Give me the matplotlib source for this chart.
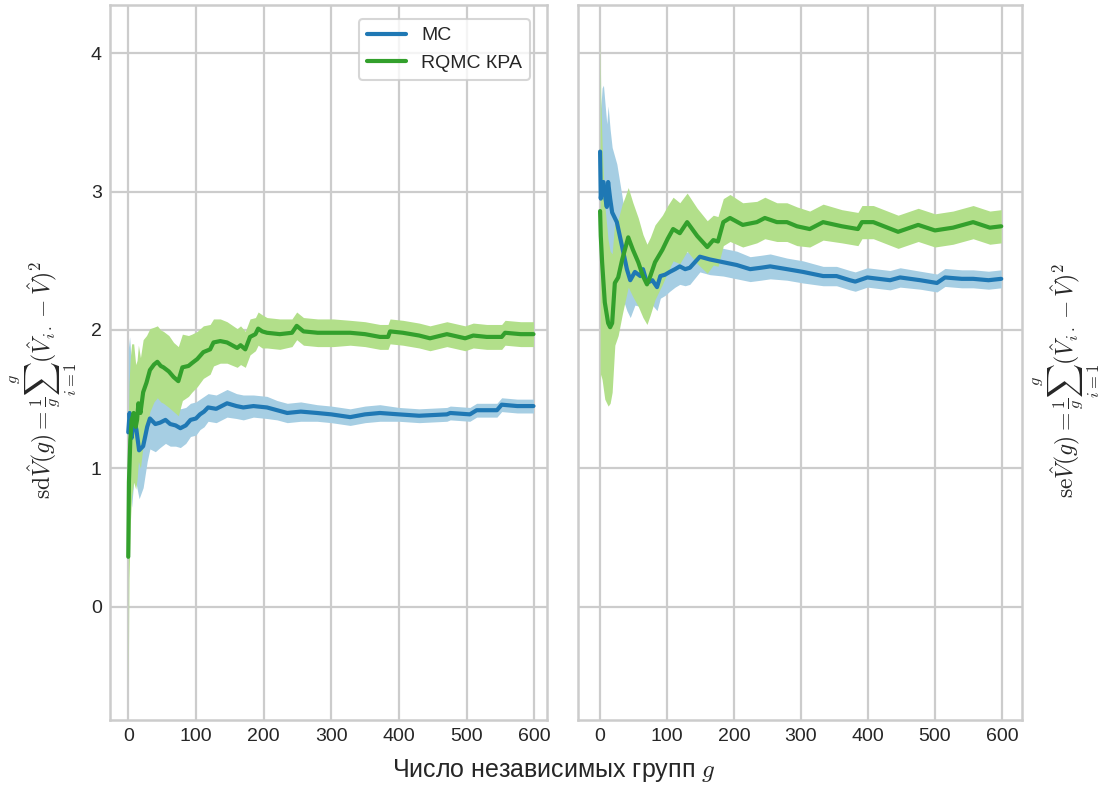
import numpy as np
import matplotlib
matplotlib.use("Agg")
import matplotlib.pyplot as plt
import seaborn as sns

sns.set_theme(style="whitegrid", context="talk")
plt.rcParams['font.family'] = ['Liberation Sans', 'DejaVu Sans']
plt.rcParams['mathtext.fontset'] = 'cm'

# left panel (sd), MC
sd_mc_g = [0, 2, 5, 8, 12, 16, 22, 28, 32, 40, 47, 55, 62, 70, 77, 85, 92, 100, 106, 112, 118,
           130, 146, 160, 170, 185, 205, 220, 235, 255, 279, 300, 328, 350, 372, 400, 430, 471,
           476, 505, 515, 545, 552, 575, 599]
sd_mc = [1.26, 1.40, 1.22, 1.35, 1.28, 1.13, 1.16, 1.30, 1.36, 1.32, 1.33, 1.35, 1.32, 1.31, 1.29,
         1.31, 1.35, 1.36, 1.39, 1.41, 1.44, 1.43, 1.47, 1.45, 1.44, 1.45, 1.44, 1.42, 1.40, 1.41,
         1.40, 1.39, 1.37, 1.39, 1.40, 1.39, 1.38, 1.39, 1.40, 1.39, 1.42, 1.42, 1.46, 1.45, 1.45]
sd_mc_hw = [.6, .55, .5, .45, .4, .35, .3, .25, .22, .2, .18, .17, .16, .15, .14, .13, .12, .12, .11,
            .11, .1, .1, .1, .09, .09, .08, .08, .07, .07, .07, .06, .06, .06, .06, .06, .05, .05,
            .05, .05, .05, .05, .05, .05, .05, .05]

# left panel (sd), RQMC
sd_rq_g = [0, 1, 3, 5, 8, 11, 13, 15, 18, 22, 27, 32, 38, 43, 48, 52, 60, 67, 74, 80, 89, 94, 102,
           111, 121, 126, 136, 146, 161, 166, 173, 180, 188, 192, 198, 205, 224, 242, 249, 259,
           280, 303, 328, 350, 372, 384, 387, 406, 430, 446, 471, 498, 510, 530, 552, 557, 580, 599]
sd_rq = [0.36, 0.9, 1.2, 1.35, 1.40, 1.3, 1.35, 1.47, 1.40, 1.55, 1.62, 1.71, 1.75, 1.77, 1.74,
         1.73, 1.70, 1.66, 1.63, 1.73, 1.74, 1.76, 1.79, 1.84, 1.86, 1.91, 1.92, 1.91, 1.87, 1.89,
         1.86, 1.95, 1.97, 2.01, 1.99, 1.98, 1.97, 1.98, 2.03, 1.99, 1.98, 1.98, 1.98, 1.97, 1.95,
         1.95, 1.99, 1.98, 1.96, 1.94, 1.97, 1.94, 1.96, 1.95, 1.95, 1.98, 1.97, 1.97]
sd_rq_hw = [.95, .7, .6, .55, .5, .45, .43, .42, .4, .38, .34, .3, .27, .26, .26, .26, .26, .25,
            .25, .24, .22, .21, .2, .19, .18, .17, .16, .15, .14, .14, .13, .13, .12, .12, .12,
            .11, .11, .1, .1, .1, .1, .1, .09, .09, .09, .09, .09, .09, .09, .09, .09, .09, .09,
            .09, .09, .09, .09, .09]

# right panel (se), MC
se_mc_g = [0, 1, 3, 5, 8, 10, 12, 15, 18, 25, 33, 40, 45, 52, 60, 64, 70, 78, 85, 90, 97, 104,
           112, 119, 127, 134, 149, 164, 184, 204, 224, 240, 254, 279, 303, 333, 353, 373, 381,
           399, 433, 448, 478, 503, 515, 540, 557, 580, 599]
se_mc = [3.29, 2.95, 3.05, 3.07, 2.95, 2.89, 3.07, 2.95, 2.85, 2.78, 2.60, 2.44, 2.36, 2.42, 2.39,
         2.44, 2.34, 2.36, 2.31, 2.39, 2.40, 2.42, 2.44, 2.46, 2.44, 2.45, 2.53, 2.51, 2.49, 2.47,
         2.44, 2.45, 2.46, 2.44, 2.42, 2.39, 2.39, 2.36, 2.35, 2.38, 2.36, 2.38, 2.36, 2.34, 2.38,
         2.37, 2.37, 2.36, 2.37]
se_mc_hw = [.6, .65, .7, .7, .65, .6, .55, .5, .47, .42, .36, .3, .27, .24, .22, .2, .19, .18, .17,
            .16, .15, .14, .13, .13, .12, .12, .11, .11, .1, .1, .09, .09, .09, .08, .08, .07, .07,
            .07, .07, .07, .07, .07, .065, .065, .065, .065, .065, .065, .065]

# right panel (se), RQMC
se_rq_g = [0, 1, 3, 7, 12, 15, 18, 22, 27, 33, 37, 42, 49, 57, 64, 70, 75, 82, 93, 101, 109, 119,
           130, 145, 160, 169, 176, 184, 194, 213, 234, 246, 264, 279, 294, 313, 333, 361, 385,
           391, 408, 445, 475, 500, 527, 557, 582, 599]
se_rq = [2.86, 2.68, 2.49, 2.20, 2.05, 2.02, 2.05, 2.34, 2.38, 2.51, 2.58, 2.67, 2.58, 2.49, 2.39,
         2.33, 2.39, 2.49, 2.58, 2.66, 2.73, 2.70, 2.78, 2.68, 2.60, 2.65, 2.64, 2.78, 2.81, 2.76,
         2.78, 2.81, 2.78, 2.78, 2.75, 2.73, 2.78, 2.75, 2.73, 2.78, 2.78, 2.71, 2.76, 2.72, 2.74,
         2.78, 2.74, 2.75]
se_rq_hw = [1.25, 1.0, .85, .7, .6, .55, .5, .45, .42, .4, .38, .36, .34, .32, .3, .29, .28, .27,
            .25, .24, .23, .22, .21, .2, .19, .18, .18, .17, .17, .16, .15, .15, .14, .14, .14,
            .13, .13, .12, .12, .12, .12, .12, .12, .12, .12, .12, .12, .12]

labels = ['MC', 'RQMC КРА']
dark = ['#1f78b4', '#33a02c']
light = ['#a6cee3', '#b2df8a']

W, H = 1100, 785
fig = plt.figure(figsize=(11, 7.85), dpi=100)
ax1 = fig.add_axes([110 / W, 1 - 720 / H, 437 / W, 715 / H])
ax2 = fig.add_axes([578 / W, 1 - 720 / H, 444 / W, 715 / H], sharey=ax1)
plt.setp(ax2.get_yticklabels(), visible=False)

panels = [(ax1, [(sd_mc_g, sd_mc, sd_mc_hw), (sd_rq_g, sd_rq, sd_rq_hw)]),
          (ax2, [(se_mc_g, se_mc, se_mc_hw), (se_rq_g, se_rq, se_rq_hw)])]
for ax, series in panels:
    for k, (g, v, hw) in enumerate(series):
        g = np.array(g); v = np.array(v); hw = np.array(hw)
        ax.fill_between(g, v - hw, v + hw, color=light[k], lw=0, zorder=2)
    for k, (g, v, hw) in enumerate(series):
        ax.plot(g, v, color=dark[k], lw=3.0, label=labels[k], zorder=3)
    ax.set_xticks([0, 100, 200, 300, 400, 500, 600])
    ax.tick_params(labelsize=14, colors='#262626', length=0, pad=6)
    for s in ax.spines.values():
        s.set_color('#cccccc')
        s.set_linewidth(1.8)
    ax.grid(color='#cccccc', lw=1.6)

ax1.set_xlim(-27, 619)
ax2.set_xlim(-33, 630)
ax1.set_ylim(-0.82, 4.35)
ax1.set_yticks([0, 1, 2, 3, 4])

ax1.set_ylabel(r'$\mathrm{sd}\hat{V}(g) = \frac{1}{g}\sum_{i=1}^{g}(\hat{V}_{i\cdot} - \hat{V})^2$',
               fontsize=17, color='#262626')
ax1.yaxis.set_label_coords(-0.07, 0.475)
ax2.yaxis.set_label_position('right')
ax2.set_ylabel(r'$\mathrm{se}\hat{V}(g) = \frac{1}{g}\sum_{i=1}^{g}(\hat{V}_{i\cdot} - \hat{V})^2$',
               fontsize=17, color='#262626')
ax2.yaxis.set_label_coords(1.02, 0.475)

fig.text(0.503, 0.019, r'Число независимых групп $g$', ha='center', va='center',
         fontsize=18, color='#262626')

leg = ax1.legend(loc='upper right', bbox_to_anchor=(420 / 437, 701 / 715), borderaxespad=0,
                 fontsize=14, frameon=True, handlelength=2.0, labelspacing=0.5)
leg.get_frame().set_edgecolor('#cccccc')

fig.savefig('out.png', dpi=100)
